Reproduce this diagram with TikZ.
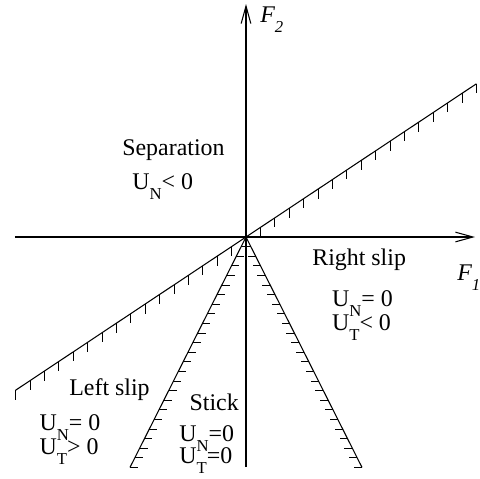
\documentclass[tikz,border=0pt]{standalone}
\usepackage{fontspec}
\setmainfont{Liberation Serif}
\usetikzlibrary{arrows.meta}
\newcommand{\lowsub}[1]{\raisebox{-0.42em}{\fontsize{9.5}{9.5}\selectfont #1}}

\begin{document}
\begin{tikzpicture}[x=0.02cm, y=0.02cm,
  >={Straight Barb[length=10pt, width=5.5pt]},
  lbl/.style={anchor=base west, inner sep=0pt, font=\fontsize{13.6}{16}\selectfont},
  hatch/.style={line width=0.45pt},
  bound/.style={line width=0.6pt}]
  % パラメータ設定
  \def\slope{0.665}   % 分離境界の傾き
  \def\dx{14.4}       % 分離境界の刻み間隔
  \def\cone{0.5035}   % 固着領域の境界 (x/y)
  \def\dy{9.6}        % 固着境界の刻み間隔

  \useasboundingbox (-246,-241) rectangle (234,237);

  % 1. 座標軸
  \coordinate (O) at (0,0);
  \coordinate (Xl) at (-231,0);
  \coordinate (Xr) at (229,0);
  \coordinate (Yb) at (0,-230);
  \coordinate (Yt) at (0,233);
  \draw[->, bound] (Xl) -- (Xr);
  \draw[->, bound] (Yb) -- (Yt);
  \node[lbl] (fone) at (211,-43) {\itshape F\lowsub{\itshape 1}};
  \node[lbl] (ftwo) at (14,215) {\itshape F\lowsub{\itshape 2}};

  % 2. 分離境界 (下側に刻み)
  \coordinate (Sl) at ({-16*\dx}, {-16*\dx*\slope});
  \coordinate (Sr) at ({16*\dx}, {16*\dx*\slope});
  \draw[bound] (Sl) -- (Sr);
  \foreach \k in {1,...,16} {
    \draw[hatch] ({\k*\dx}, {\k*\dx*\slope}) -- ++(0,-9.5);
    \draw[hatch] ({-\k*\dx}, {-\k*\dx*\slope}) -- ++(0,-9.5);
  }

  % 3. 固着領域の境界 (内側に刻み)
  \coordinate (Cl) at ({-24*\dy*\cone}, {-24*\dy});
  \coordinate (Cr) at ({24*\dy*\cone}, {-24*\dy});
  \draw[bound] (Cl) -- (O) -- (Cr);
  \foreach \k in {1,...,24} {
    \draw[hatch] ({-\k*\dy*\cone}, {-\k*\dy}) -- ++(8,0);
    \draw[hatch] ({\k*\dy*\cone}, {-\k*\dy}) -- ++(-8,0);
  }

  % 4. 各領域のラベル
  \node[lbl] (sep)   at (-124,82)     {Separation};
  \node[lbl] (sepUN) at (-114,48)     {U\lowsub{N}< 0};
  \node[lbl] (rslip) at (66,-28.7)    {Right slip};
  \node[lbl] (rUN)   at (85.7,-69)    {U\lowsub{N}= 0};
  \node[lbl] (rUT)   at (85.7,-93.7)  {U\lowsub{T}< 0};
  \node[lbl] (lslip) at (-177,-158)   {Left slip};
  \node[lbl] (lUN)   at (-206.7,-193) {U\lowsub{N}= 0};
  \node[lbl] (lUT)   at (-206.7,-217) {U\lowsub{T}> 0};
  \node[lbl] (stick) at (-56.7,-173)  {Stick};
  \node[lbl] (sUN)   at (-67,-204.7)  {U\lowsub{N}=0};
  \node[lbl] (sUT)   at (-67,-226)    {U\lowsub{T}=0};

\end{tikzpicture}
\end{document}
